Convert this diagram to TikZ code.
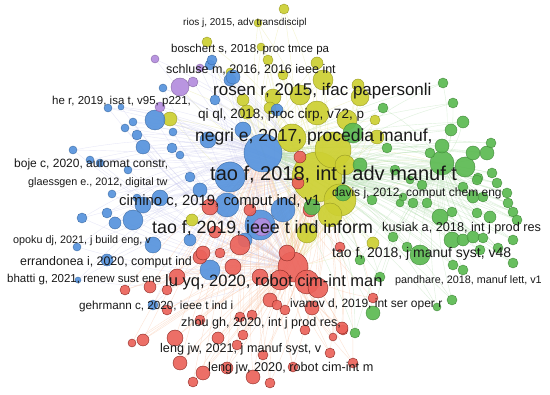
\documentclass[tikz,border=0pt]{standalone}
\usepackage{fontspec}
\setmainfont{Liberation Sans}
\usetikzlibrary{positioning}
\definecolor{vosblue}{RGB}{86,147,221}
\definecolor{vosyellow}{RGB}{205,208,50}
\definecolor{vosgreen}{RGB}{92,186,82}
\definecolor{vosred}{RGB}{232,72,62}
\definecolor{vospurple}{RGB}{180,140,222}
\definecolor{voslabel}{RGB}{25,25,25}
\pgfdeclarelayer{edges}
\pgfsetlayers{edges,main}
\tikzset{
  vos node/.style={circle,inner sep=0pt,line width=0.4pt,fill opacity=0.92},
  blue node/.style={vos node,fill=vosblue,draw=vosblue!75!black},
  yellow node/.style={vos node,fill=vosyellow,draw=vosyellow!75!black},
  green node/.style={vos node,fill=vosgreen,draw=vosgreen!75!black},
  red node/.style={vos node,fill=vosred!85!white,draw=vosred!60!black},
  purple node/.style={vos node,fill=vospurple,draw=vospurple!75!black},
  vos link/.style={line width=0.4pt,opacity=0.45},
  blue link/.style={vos link,draw=vosblue!40!vospurple!45!white},
  yellow link/.style={vos link,draw=vosyellow!50!white},
  green link/.style={vos link,draw=vosgreen!45!white},
  red link/.style={vos link,draw=vosred!40!orange!40!white},
  vos label/.style={font=\fontsize{#1}{#1}\selectfont,text=voslabel,
    inner sep=0pt,anchor=west}
}
\begin{document}
\begin{tikzpicture}[x=1pt,y=-1pt]
  \useasboundingbox (0,0) rectangle (550,395);
  \begin{pgfonlayer}{edges}
    \fill[white] (0,0) rectangle (550,395);
  \end{pgfonlayer}
  % cluster centres
  \node[yellow node,minimum size=50pt] (ycen) at (317,177) {};
  \node[blue node,minimum size=38pt] (bcen) at (263,153) {};
  \node[red node,minimum size=30pt] (rcen) at (293,267) {};
  \node[green node,minimum size=24pt] (gcen) at (442,163) {};
  \node[purple node,minimum size=18pt] (pcen) at (180,87) {};
  \begin{pgfonlayer}{edges}
    \foreach \from/\to in {ycen/bcen,ycen/rcen,ycen/gcen,bcen/rcen,
      bcen/pcen,rcen/gcen,pcen/ycen,bcen/gcen}
      \draw[yellow link] (\from) to[bend left=10] (\to);
  \end{pgfonlayer}
  % yellow
  \foreach \x/\y/\r [count=\i] in {340/200/16,333/150/18,292/138/14,
    317/113/12,347/120/10,300/95/10,323/80/10,360/97/9,273/97/8,
    243/100/6,247/112/7,270/108/6,377/137/7,317/63/6,268/60/5,261/47/4,
    207/42/5,284/9/5,258/23/4,230/72/4,358/85/6,375/120/5,170/119/7,
    307/233/10,373/243/6,192/220/6,330/215/12,283/75/5,345/165/10}{
    \node[yellow node,minimum size={2pt*\r}] (y\i) at (\x,\y) {};
    \begin{pgfonlayer}{edges}
      \draw[yellow link] (y\i) to[bend left=12] (ycen);
      \draw[yellow link] (y\i) to[bend right=8] (bcen);
      \draw[yellow link] (y\i) to[bend left=6] (rcen);
    \end{pgfonlayer}
  }
  % blue
  \foreach \x/\y/\r [count=\i] in {230/177/15,260/225/15,283/210/12,
    227/205/12,155/120/10,133/220/10,210/270/10,208/140/8,243/130/8,
    163/88/4,125/128/4,133/122/4,137/135/5,108/108/4,121/107/3,
    143/147/7,172/148/5,180/155/4,73/150/4,90/160/4,100/163/4,
    112/194/4,137/198/4,128/170/4,190/177/5,160/198/8,173/132/4,
    210/65/5,230/80/6,82/218/5,107/213/5,115/223/6,143/205/8,
    153/245/8,77/247/4,107/260/6,78/280/3,153/305/5,190/240/6,
    200/190/7,245/240/7,215/100/5,212/60/5,233/77/7,277/110/6}{
    \node[blue node,minimum size={2pt*\r}] (b\i) at (\x,\y) {};
    \begin{pgfonlayer}{edges}
      \draw[blue link] (b\i) to[bend left=10] (bcen);
      \draw[blue link] (b\i) to[bend right=10] (rcen);
      \draw[blue link] (b\i) to[bend left=5] (ycen);
    \end{pgfonlayer}
  }
  % purple
  \foreach \x/\y/\r [count=\i] in {155/59/4,193/82/5,160/107/5,
    200/68/4,262/227/9}{
    \node[purple node,minimum size={2pt*\r}] (p\i) at (\x,\y) {};
    \begin{pgfonlayer}{edges}
      \draw[blue link] (p\i) to[bend left=10] (ycen);
      \draw[blue link] (p\i) to[bend right=10] (bcen);
    \end{pgfonlayer}
  }
  % red
  \foreach \x/\y/\r [count=\i] in {307/282/12,318/288/10,280/280/10,
    240/245/10,260/277/8,233/267/8,177/277/8,200/257/7,287/253/8,
    270/300/7,300/157/6,210/207/8,250/210/6,215/232/6,340/247/5,
    220/253/5,167/310/5,240/317/5,252/315/5,143/340/6,132/343/4,
    175/338/8,218/338/6,243/335/5,237/345/5,263/355/5,330/353/5,
    343/330/5,333/337/4,180/363/7,203/373/7,227/368/6,253/377/7,
    270/383/5,293/367/5,353/363/5,193/382/5,125/290/5,150/287/6,
    167/290/5,305/330/5,285/310/5,200/320/5,310/210/7,298/183/6,
    312/308/7,373/298/5,277/305/5,342/328/6,203/253/7}{
    \node[red node,minimum size={2pt*\r}] (r\i) at (\x,\y) {};
    \begin{pgfonlayer}{edges}
      \draw[red link] (r\i) to[bend left=10] (rcen);
      \draw[red link] (r\i) to[bend right=10] (ycen);
      \draw[red link] (r\i) to[bend left=6] (bcen);
    \end{pgfonlayer}
  }
  % green
  \foreach \x/\y/\r [count=\i] in {465/167/10,353/133/10,420/255/10,
    440/217/8,452/240/8,443/83/5,453/103/5,463/122/6,451/130/6,
    442/146/7,430/153/5,473/153/7,487/153/7,491/143/5,478/178/5,
    492/173/5,497/183/5,383/108/5,387/148/5,507/193/5,508/203/5,
    513/212/5,517/220/5,452/212/5,477/213/5,490/217/6,463/240/6,
    473/237/6,483/238/5,513/240/5,407/247/5,393/237/5,453/265/5,
    463/270/5,480/250/5,498/248/5,513/263/5,452/300/5,437/307/4,
    427/203/5,413/203/5,400/203/4,483/197/5,473/197/6,463/187/5,
    422/185/5,403/197/4,477/180/5,380/277/5,373/313/7,355/333/5,
    360/260/5,372/200/5,395/170/5,410/180/4,312/207/8,343/193/8,
    360/165/7}{
    \node[green node,minimum size={2pt*\r}] (g\i) at (\x,\y) {};
    \begin{pgfonlayer}{edges}
      \draw[green link] (g\i) to[bend left=10] (gcen);
      \draw[green link] (g\i) to[bend right=12] (ycen);
      \draw[green link] (g\i) to[bend right=6] (bcen);
    \end{pgfonlayer}
  }
  % labels
  \node[vos label=10] (rios) at (183,23) {rios j, 2015, adv transdiscipl};
  \node[vos label=11.5] (boschert) at (171,50) {boschert s, 2018, proc tmce pa};
  \node[vos label=12.5] (schluse) at (166,70) {schluse m, 2016, 2016 ieee int};
  \node[vos label=17] (rosen) at (213,91) {rosen r, 2015, ifac papersonli};
  \node[vos label=11.5] (her) at (52,102) {he r, 2019, isa t, v95, p221,};
  \node[vos label=13.5] (qiql) at (198,115) {qi ql, 2018, proc cirp, v72, p};
  \node[vos label=17.5] (negri) at (195,137) {negri e, 2017, procedia manuf,};
  \node[vos label=12] (boje) at (14,164) {boje c, 2020, automat constr,};
  \node[vos label=10.8] (glaessgen) at (28,183) {glaessgen e., 2012, digital tw};
  \node[vos label=20] (taoij) at (210,175) {tao f, 2018, int j adv manuf t};
  \node[vos label=12] (davis) at (332,193) {davis j, 2012, comput chem eng};
  \node[vos label=14.9] (cimino) at (119,202) {cimino c, 2019, comput ind, v1};
  \node[vos label=17.8] (taotii) at (152,228) {tao f, 2019, ieee t ind inform};
  \node[vos label=12.7] (kusiak) at (382,228) {kusiak a, 2018, int j prod res};
  \node[vos label=10.8] (opoku) at (13,241) {opoku dj, 2021, j build eng, v};
  \node[vos label=14] (taojms) at (332,254) {tao f, 2018, j manuf syst, v48};
  \node[vos label=12.4] (errandonea) at (20,262) {errandonea i, 2020, comput ind};
  \node[vos label=11.5] (bhatti) at (7,280) {bhatti g, 2021, renew sust ene};
  \node[vos label=16.5] (luyq) at (165,282) {lu yq, 2020, robot cim-int man};
  \node[vos label=10.8] (pandhare) at (395,281) {pandhare, 2018, manuf lett, v1};
  \node[vos label=11.7] (gehrmann) at (79,306) {gehrmann c, 2020, ieee t ind i};
  \node[vos label=12] (ivanov) at (290,304) {ivanov d, 2019, int ser oper r};
  \node[vos label=12.6] (zhou) at (181,323) {zhou gh, 2020, int j prod res,};
  \node[vos label=12.6] (lengone) at (160,349) {leng jw, 2021, j manuf syst, v};
  \node[vos label=12.7] (lengtwo) at (208,368) {leng jw, 2020, robot cim-int m};
\end{tikzpicture}
\end{document}
